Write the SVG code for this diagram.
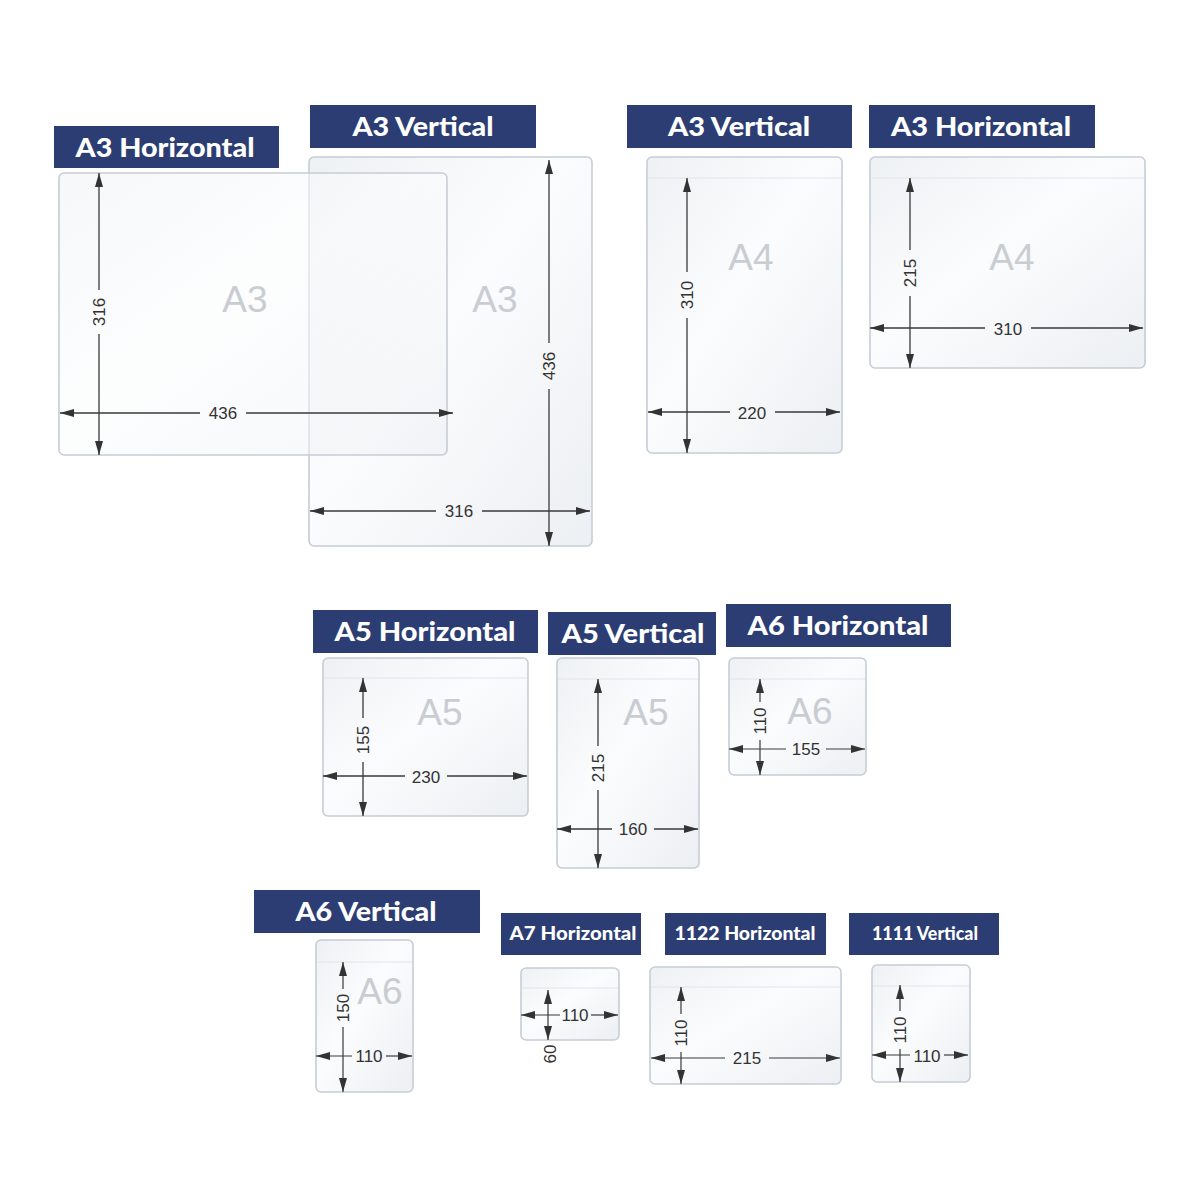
<svg xmlns="http://www.w3.org/2000/svg" width="1200" height="1200" viewBox="0 0 1200 1200">
<defs>
<linearGradient id="pg" x1="0" y1="0" x2="1" y2="1">
<stop offset="0" stop-color="#eef1f4"/>
<stop offset="0.45" stop-color="#fbfcfd"/>
<stop offset="1" stop-color="#eceff3"/>
</linearGradient>
<marker id="ah" viewBox="0 0 14 8" refX="14" refY="4" markerWidth="14" markerHeight="8" markerUnits="userSpaceOnUse" orient="auto-start-reverse">
<path d="M0,0 L14,4 L0,8 z" fill="#333"/>
</marker>
</defs>
<style>
.lbl{fill:#2b3d72}
.lt{fill:#fff;font-family:"Lato","Open Sans",sans-serif;font-weight:900;font-size:27px;text-anchor:middle}
.lts{fill:#fff;font-family:"Lato","Open Sans",sans-serif;font-weight:900;font-size:19px;text-anchor:middle}
.pk{fill:url(#pg);stroke:#c6cdd6;stroke-width:1.6}
.pkt{fill:url(#pg);fill-opacity:0.55;stroke:#c6cdd6;stroke-width:1.6}
.fl{stroke:#e1e5ea;stroke-width:1.2}
.wm{fill:#c9cdd3;font-family:"Liberation Sans",Arial,sans-serif;font-size:37px;text-anchor:middle}
.d{stroke:#3a3a3a;stroke-width:1.3;fill:none}
.ds{stroke:#3a3a3a;stroke-width:1.2;fill:none}
.dt{fill:#333;font-family:"Liberation Sans",Arial,sans-serif;font-size:17px;text-anchor:middle;dominant-baseline:central}
</style>
<rect width="1200" height="1200" fill="#fff"/>

<g id="a3-vertical-left">
<rect class="lbl" x="310" y="105" width="226" height="43"/>
<text class="lt" x="423" y="136" textLength="141" lengthAdjust="spacingAndGlyphs">A3 Vertical</text>
<rect class="pk" x="309" y="157" width="283" height="389" rx="5"/>
<text class="wm" x="495" y="312">A3</text>
<line class="d" x1="549" y1="160" x2="549" y2="343" marker-start="url(#ah)"/>
<line class="d" x1="549" y1="389" x2="549" y2="546" marker-end="url(#ah)"/>
<text class="dt" transform="translate(549,366) rotate(-90)">436</text>
<line class="d" x1="310" y1="511" x2="436" y2="511" marker-start="url(#ah)"/>
<line class="d" x1="482" y1="511" x2="590" y2="511" marker-end="url(#ah)"/>
<text class="dt" x="459" y="511">316</text>
</g>

<g id="a3-horizontal-left">
<rect class="lbl" x="54" y="126" width="225" height="42"/>
<text class="lt" x="165" y="157" textLength="179" lengthAdjust="spacingAndGlyphs">A3 Horizontal</text>
<rect class="pkt" x="59" y="173" width="388" height="282" rx="5"/>
<text class="wm" x="245" y="312">A3</text>
<line class="d" x1="99" y1="173" x2="99" y2="290" marker-start="url(#ah)"/>
<line class="d" x1="99" y1="334" x2="99" y2="455" marker-end="url(#ah)"/>
<text class="dt" transform="translate(99,312) rotate(-90)">316</text>
<line class="d" x1="60" y1="413" x2="200" y2="413" marker-start="url(#ah)"/>
<line class="d" x1="246" y1="413" x2="453" y2="413" marker-end="url(#ah)"/>
<text class="dt" x="223" y="413">436</text>
</g>

<g id="a3-vertical-a4">
<rect class="lbl" x="627" y="105" width="225" height="43"/>
<text class="lt" x="739" y="136" textLength="142" lengthAdjust="spacingAndGlyphs">A3 Vertical</text>
<rect class="pk" x="647" y="157" width="195" height="296" rx="5"/>
<line class="fl" x1="648" y1="178" x2="841" y2="178"/>
<text class="wm" x="751" y="270">A4</text>
<line class="d" x1="687" y1="178" x2="687" y2="272" marker-start="url(#ah)"/>
<line class="d" x1="687" y1="318" x2="687" y2="453" marker-end="url(#ah)"/>
<text class="dt" transform="translate(687,295) rotate(-90)">310</text>
<line class="d" x1="648" y1="412" x2="730" y2="412" marker-start="url(#ah)"/>
<line class="d" x1="775" y1="412" x2="840" y2="412" marker-end="url(#ah)"/>
<text class="dt" x="752" y="413">220</text>
</g>

<g id="a3-horizontal-a4">
<rect class="lbl" x="869" y="105" width="226" height="43"/>
<text class="lt" x="981" y="136" textLength="180" lengthAdjust="spacingAndGlyphs">A3 Horizontal</text>
<rect class="pk" x="870" y="157" width="275" height="211" rx="5"/>
<line class="fl" x1="871" y1="178" x2="1144" y2="178"/>
<text class="wm" x="1012" y="270">A4</text>
<line class="d" x1="910" y1="178" x2="910" y2="250" marker-start="url(#ah)"/>
<line class="d" x1="910" y1="296" x2="910" y2="368" marker-end="url(#ah)"/>
<text class="dt" transform="translate(910,273) rotate(-90)">215</text>
<line class="d" x1="870" y1="328" x2="985" y2="328" marker-start="url(#ah)"/>
<line class="d" x1="1031" y1="328" x2="1143" y2="328" marker-end="url(#ah)"/>
<text class="dt" x="1008" y="329">310</text>
</g>

<g id="a5-horizontal">
<rect class="lbl" x="313" y="610" width="225" height="43"/>
<text class="lt" x="425" y="641" textLength="181" lengthAdjust="spacingAndGlyphs">A5 Horizontal</text>
<rect class="pk" x="323" y="658" width="205" height="158" rx="5"/>
<line class="fl" x1="324" y1="678" x2="527" y2="678"/>
<text class="wm" x="440" y="725">A5</text>
<line class="d" x1="363" y1="678" x2="363" y2="718" marker-start="url(#ah)"/>
<line class="d" x1="363" y1="762" x2="363" y2="816" marker-end="url(#ah)"/>
<text class="dt" transform="translate(363,740) rotate(-90)">155</text>
<line class="d" x1="323" y1="776" x2="405" y2="776" marker-start="url(#ah)"/>
<line class="d" x1="447" y1="776" x2="527" y2="776" marker-end="url(#ah)"/>
<text class="dt" x="426" y="777">230</text>
</g>

<g id="a5-vertical">
<rect class="lbl" x="548" y="612" width="168" height="43"/>
<text class="lt" x="633" y="643" textLength="143" lengthAdjust="spacingAndGlyphs">A5 Vertical</text>
<rect class="pk" x="557" y="658" width="142" height="210" rx="5"/>
<line class="fl" x1="558" y1="679" x2="698" y2="679"/>
<text class="wm" x="646" y="725">A5</text>
<line class="d" x1="598" y1="679" x2="598" y2="746" marker-start="url(#ah)"/>
<line class="d" x1="598" y1="790" x2="598" y2="868" marker-end="url(#ah)"/>
<text class="dt" transform="translate(598,768) rotate(-90)">215</text>
<line class="d" x1="557" y1="829" x2="612" y2="829" marker-start="url(#ah)"/>
<line class="d" x1="654" y1="829" x2="698" y2="829" marker-end="url(#ah)"/>
<text class="dt" x="633" y="829">160</text>
</g>

<g id="a6-horizontal">
<rect class="lbl" x="726" y="604" width="225" height="43"/>
<text class="lt" x="838" y="635" textLength="181" lengthAdjust="spacingAndGlyphs">A6 Horizontal</text>
<rect class="pk" x="729" y="658" width="137" height="117" rx="5"/>
<line class="fl" x1="730" y1="679" x2="865" y2="679"/>
<text class="wm" x="810" y="724">A6</text>
<line class="ds" x1="760" y1="679" x2="760" y2="702" marker-start="url(#ah)"/>
<line class="ds" x1="760" y1="740" x2="760" y2="775" marker-end="url(#ah)"/>
<text class="dt" transform="translate(760,721) rotate(-90)">110</text>
<line class="ds" x1="729" y1="749" x2="786" y2="749" marker-start="url(#ah)"/>
<line class="ds" x1="826" y1="749" x2="865" y2="749" marker-end="url(#ah)"/>
<text class="dt" x="806" y="749">155</text>
</g>

<g id="a6-vertical">
<rect class="lbl" x="254" y="890" width="226" height="43"/>
<text class="lt" x="366" y="921" textLength="141" lengthAdjust="spacingAndGlyphs">A6 Vertical</text>
<rect class="pk" x="316" y="940" width="97" height="152" rx="5"/>
<line class="fl" x1="317" y1="962" x2="412" y2="962"/>
<text class="wm" x="380" y="1004">A6</text>
<line class="ds" x1="343" y1="962" x2="343" y2="989" marker-start="url(#ah)"/>
<line class="ds" x1="343" y1="1027" x2="343" y2="1092" marker-end="url(#ah)"/>
<text class="dt" transform="translate(343,1008) rotate(-90)">150</text>
<line class="ds" x1="316" y1="1056" x2="352" y2="1056" marker-start="url(#ah)"/>
<line class="ds" x1="386" y1="1056" x2="412" y2="1056" marker-end="url(#ah)"/>
<text class="dt" x="369" y="1056">110</text>
</g>

<g id="a7-horizontal">
<rect class="lbl" x="501" y="913" width="140" height="42"/>
<text class="lts" x="573" y="940" textLength="127" lengthAdjust="spacingAndGlyphs">A7 Horizontal</text>
<rect class="pk" x="521" y="968" width="98" height="72" rx="5"/>
<line class="fl" x1="522" y1="988" x2="618" y2="988"/>
<line class="ds" x1="548" y1="990" x2="548" y2="1040" marker-start="url(#ah)" marker-end="url(#ah)"/>
<text class="dt" transform="translate(550,1054) rotate(-90)">60</text>
<line class="ds" x1="521" y1="1015" x2="560" y2="1015" marker-start="url(#ah)"/>
<line class="ds" x1="591" y1="1015" x2="618" y2="1015" marker-end="url(#ah)"/>
<text class="dt" x="575" y="1015">110</text>
</g>

<g id="1122-horizontal">
<rect class="lbl" x="665" y="913" width="161" height="42"/>
<text class="lts" x="745" y="940" textLength="141" lengthAdjust="spacingAndGlyphs">1122 Horizontal</text>
<rect class="pk" x="650" y="967" width="191" height="117" rx="5"/>
<line class="fl" x1="651" y1="987" x2="840" y2="987"/>
<line class="ds" x1="681" y1="987" x2="681" y2="1014" marker-start="url(#ah)"/>
<line class="ds" x1="681" y1="1052" x2="681" y2="1084" marker-end="url(#ah)"/>
<text class="dt" transform="translate(681,1033) rotate(-90)">110</text>
<line class="ds" x1="651" y1="1058" x2="725" y2="1058" marker-start="url(#ah)"/>
<line class="ds" x1="769" y1="1058" x2="840" y2="1058" marker-end="url(#ah)"/>
<text class="dt" x="747" y="1058">215</text>
</g>

<g id="1111-vertical">
<rect class="lbl" x="849" y="913" width="150" height="42"/>
<text class="lts" x="925" y="940" textLength="106" lengthAdjust="spacingAndGlyphs">1111 Vertical</text>
<rect class="pk" x="872" y="965" width="98" height="117" rx="5"/>
<line class="fl" x1="873" y1="986" x2="969" y2="986"/>
<line class="ds" x1="900" y1="985" x2="900" y2="1011" marker-start="url(#ah)"/>
<line class="ds" x1="900" y1="1049" x2="900" y2="1082" marker-end="url(#ah)"/>
<text class="dt" transform="translate(900,1030) rotate(-90)">110</text>
<line class="ds" x1="872" y1="1055" x2="910" y2="1055" marker-start="url(#ah)"/>
<line class="ds" x1="944" y1="1055" x2="968" y2="1055" marker-end="url(#ah)"/>
<text class="dt" x="927" y="1056">110</text>
</g>

<g id="connectors"></g>
</svg>
